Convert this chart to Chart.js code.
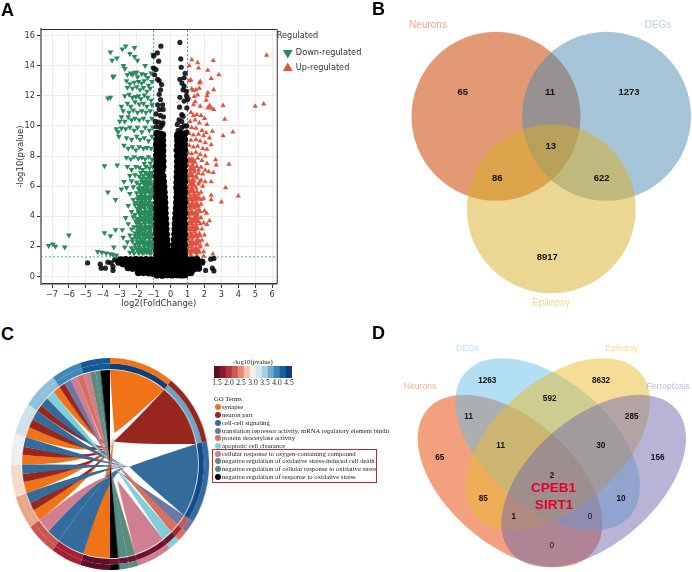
<!DOCTYPE html>
<html>
<head>
<meta charset="utf-8">
<title>Neuronal ferroptosis genes in epilepsy</title>
<script src="https://cdn.jsdelivr.net/npm/chart.js@4/dist/chart.umd.min.js"></script>
<style>
    html, body { margin: 0; padding: 0; background: #fff; }
    #page { position: relative; width: 692px; height: 572px; overflow: hidden; }
    #page canvas { position: absolute; }
    .letter { position: absolute; font: bold 18px "Liberation Sans", sans-serif; color: #000; line-height: 18px; }
    .go { position: absolute; font: 6.7px/8px "Liberation Serif", serif; color: #222; white-space: nowrap; }
    .dot { position: absolute; width: 6px; height: 6px; border-radius: 50%; }
    #goBox { position: absolute; left: 212px; top: 449px; width: 163px; height: 32px; border: 1.5px solid #c0272d; }
</style>
</head>
<body>
<div id="page">
    <canvas id="volcanoChart" style="left:0;top:0"></canvas>
    <canvas id="vennThreeChart" style="left:360px;top:0"></canvas>
    <canvas id="chordChart" style="left:4px;top:358px;transform:scaleX(0.935)"></canvas>
    <canvas id="pvalueBar" style="left:204px;top:360px"></canvas>
    <canvas id="vennFourChart" style="left:395px;top:320px"></canvas>
    <div class="letter" style="left:1px;top:1px">A</div>
    <div class="letter" style="left:372px;top:0">B</div>
    <div class="letter" style="left:1px;top:325px">C</div>
    <div class="letter" style="left:372px;top:324px">D</div>
    <div class="go" style="left:233px;top:358px">-log10(pvalue)</div>
    <div class="go" style="left:214px;top:395px">GO Terms</div>
    <div id="goList"></div>
    <div id="goBox"></div>
</div>
<script>
// volcano plot values: [log2FC, -log10 p]
const downPoints = [
    [-7.2,2.05],[-6.95,2.15],[-6.8,2.0],[-6.25,1.95],[-6.0,2.75],[-4.3,1.65],[-4.05,1.6],[-3.8,1.55],[-3.55,1.5],[-3.4,1.45],[-3.2,1.4],
    [-3.35,1.95],[-3.9,2.9],[-3.55,2.7],[-3.25,3.1],[-3.25,5.1],[-3.7,5.6],[-3.9,7.35],[-3.15,7.4],
    [-3.55,14.9],[-3.45,14.35],[-3.17,14.5],[-2.85,15.1],[-2.65,15.3],[-2.4,14.8],[-2.13,15.2],[-2.13,14.6],[-1.95,14.35],[-2.78,14],[-2.7,13.8],
    [-3.4,13.25],[-3.35,13.3],[-3.7,11.85],[-3.55,11.9],[-2.9,11.3],[-1.05,14.75],[-1.5,14],[-1.05,13.85],[-2,13.55],[-2.25,13.4],
    [-2.55,13.4],[-2.35,13.5],[-2.1,13.55],[-1.95,13.25],[-1.7,13.45],[-1.5,13.4],[-1.35,13.2],[-1.15,13.5],[-2.6,13],[-2.4,12.8],[-2.15,12.9],[-1.9,12.95],
    [-1.7,12.85],[-1.55,13],[-1.3,12.7],[-1.1,12.95],[-2.55,12.55],[-2.25,12.5],[-2.0,12.6],[-1.8,12.4],[-1.6,12.55],[-1.4,12.3],[-1.2,12.5],
    [-2.7,12],[-2.45,12.1],[-2.25,11.9],[-2.05,11.95],[-1.9,12],[-1.75,11.8],[-1.55,12.05],[-1.35,11.9],[-1.15,11.7],[-2.55,11.5],[-2.35,11.3],[-2.1,11.6],
    [-1.85,11.45],[-1.6,11.5],[-1.4,11.3],[-1.1,11.4],[-2.8,11.0],[-2.45,10.9],[-2.2,11.05],[-1.95,10.9],[-1.7,11],[-1.45,10.9],[-1.2,11],
    [-2.9,10.6],[-3,10.3],[-3.2,9.8],[-3.1,9.6],[-3.05,9.3],[-2.9,9.85],[-2.7,10.3],[-2.5,10.6],[-2.3,10.4],[-2.1,10.5],[-1.85,10.4],[-1.6,10.5],[-1.35,10.3],[-1.1,10.5],
    [-2.65,9.8],[-2.4,9.9],[-2.15,9.7],[-1.95,9.9],[-1.7,9.6],[-1.5,9.9],[-1.25,9.7],[-1.05,9.9],[-2.6,9.2],[-2.3,9.1],[-2,9.3],[-1.8,9.1],[-1.55,9.2],[-1.3,9],[-1.1,9.3],
    [-2.75,8.7],[-2.5,8.5],[-2.25,8.6],[-2.05,8.4],[-1.85,8.6],[-1.6,8.5],[-1.4,8.55],[-1.15,8.5],[-2.6,7.9],[-2.35,7.8],[-2.15,7.95],[-1.9,7.85],[-1.7,7.9],[-1.5,7.8],[-1.3,7.95],[-1.1,7.8],
    [-2.55,7.3],[-2.3,7.1],[-2.05,7.3],[-1.85,7.25],[-1.65,7.1],[-1.45,7.3],[-1.25,7.2],[-1.05,7.3],
    [-2.4,6.7],[-2.1,6.75],[-1.85,6.65],[-1.6,6.7],[-1.35,6.75],[-1.1,6.7],[-2.75,6.3],[-2.3,6.35],[-2.0,6.25],[-1.7,6.3],[-1.45,6.35],[-1.2,6.25],
    [-2.9,5.8],[-2.6,5.9],[-2.2,5.95],[-1.9,5.85],[-1.65,5.9],[-1.4,5.95],[-1.1,5.85],[-2.4,5.5],[-2,5.55],[-1.75,5.45],[-1.5,5.5],[-1.25,5.55],[-1.05,5.45],
    [-2.2,5.1],[-1.95,5.15],[-1.7,5.05],[-1.45,5.1],[-1.2,5.15],[-2.5,4.7],[-2.1,4.75],[-1.85,4.65],[-1.6,4.7],[-1.35,4.75],[-1.1,4.65],
    [-2.3,4.3],[-1.9,4.35],[-1.65,4.25],[-1.4,4.3],[-1.15,4.35],[-2.65,3.9],[-2.2,3.95],[-1.95,3.85],[-1.7,3.9],[-1.45,3.95],[-1.2,3.85],[-1.05,4],
    [-2.5,3.5],[-2.0,3.55],[-1.75,3.45],[-1.5,3.5],[-1.25,3.55],[-1.05,3.45],[-2.85,3.1],[-2.3,3.15],[-1.95,3.05],[-1.7,3.1],[-1.45,3.15],[-1.2,3.05],
    [-2.8,2.6],[-2.4,2.75],[-2.1,2.7],[-1.85,2.75],[-1.6,2.65],[-1.35,2.7],[-1.1,2.75],[-2.55,2.3],[-2.25,2.35],[-1.95,2.3],[-1.7,2.35],[-1.45,2.25],[-1.2,2.3],
    [-2.7,1.95],[-2.3,1.9],[-2.05,1.95],[-1.8,1.9],[-1.55,1.95],[-1.3,1.9],[-1.08,1.95],[-2.4,1.6],[-2.15,1.55],[-1.9,1.6],[-1.65,1.55],[-1.4,1.6],[-1.15,1.55],
    [-2.2,1.75],[-1.95,1.78],[-1.7,1.72],[-1.45,1.76],[-1.2,1.74],[-2.1,2.15],[-1.85,2.12],[-1.6,2.17],[-1.35,2.13],[-1.1,2.16],
    [-2.25,2.5],[-2,2.52],[-1.75,2.48],[-1.5,2.51],[-1.25,2.49],[-1.05,2.52],[-2.1,2.9],[-1.85,2.92],[-1.6,2.88],[-1.35,2.91],[-1.1,2.89],
    [-2.15,3.3],[-1.9,3.32],[-1.65,3.28],[-1.4,3.31],[-1.15,3.29],[-2.05,3.7],[-1.85,3.72],[-1.6,3.68],[-1.35,3.71],[-1.1,3.69],
    [-2.1,4.1],[-1.8,4.12],[-1.55,4.08],[-1.3,4.11],[-1.1,4.09],[-1.95,4.5],[-1.75,4.52],[-1.5,4.48],[-1.25,4.51],[-1.05,4.49],
    [-2.05,4.9],[-1.8,4.92],[-1.55,4.88],[-1.3,4.91],[-1.08,4.89],[-1.9,5.3],[-1.65,5.32],[-1.4,5.28],[-1.15,5.31],
    [-1.8,5.7],[-1.55,5.72],[-1.3,5.68],[-1.08,5.71],[-1.85,6.1],[-1.55,6.12],[-1.3,6.08],[-1.1,6.11],[-1.7,6.5],[-1.45,6.52],[-1.2,6.48],
    [-1.75,6.9],[-1.5,6.92],[-1.25,6.88],[-1.1,6.91],[-1.55,7.5],[-1.2,7.52]
];
// the solid part of the down-regulated cloud
const downCore = [
    [-1.85,1.7],[-1.55,1.72],[-1.25,1.7],[-1.85,2.2],[-1.55,2.22],[-1.25,2.2],[-1.85,2.7],[-1.55,2.72],[-1.25,2.7],[-1.85,3.2],[-1.55,3.22],[-1.25,3.2],
    [-1.85,3.7],[-1.55,3.72],[-1.25,3.7],[-1.8,4.2],[-1.55,4.22],[-1.25,4.2],[-1.8,4.7],[-1.55,4.72],[-1.25,4.7],[-1.75,5.2],[-1.5,5.22],[-1.25,5.2],
    [-1.7,5.7],[-1.5,5.72],[-1.25,5.7],[-1.5,6.2],[-1.25,6.22],[-1.25,6.7]
];
const upPoints = [
    [5.67,14.7],[5.5,11.45],[5,11.3],[4,5.35],[3,4.95],[3.25,5.9],[3.45,7.45],[3.68,9.6],[3.1,9.35],[3.2,10.45],[3.1,11.35],[2.85,13.4],[2.52,14.35],[2.2,13.7],[2.4,13.15],[2.55,12.4],
    [1.6,14.2],[1.25,14.4],[1.1,14],[1.65,13.85],[2.66,7.75],[2.7,7.4],[2.52,6.9],[2.4,6.3],[2.4,5.4],[2.4,5.1],[2.13,4.2],[2.3,3.7],[2.47,9.65],[2.1,9.55],[2.3,9.2],[2.4,8.75],
    [1.1,13],[1.2,13.05],[1.75,12.95],[1.7,12.85],[1.5,12.4],[1.35,12.35],[1.25,12.45],[1.7,12.5],[2.2,12.2],[2.15,12],[2.1,11.7],[1.6,12.05],[1.4,11.95],[1.1,11.85],[1.45,11.6],[1.35,11.4],
    [2.3,11.35],[2.4,11.2],[2.55,11.1],[2.2,11.2],[1.75,11.3],[1.2,10.9],[1.35,10.7],[1.55,10.75],[1.8,10.7],[2.0,10.5],[1.45,10.4],[1.15,10.3],[1.7,10.2],[2.15,10.1],
    [1.25,9.9],[1.5,9.85],[1.85,9.7],[1.1,9.5],[1.35,9.4],[1.65,9.45],[1.95,9.35],[1.2,9.05],[1.5,9.1],[1.75,9],[2.05,8.9],[1.1,8.7],[1.35,8.6],[1.6,8.65],[1.9,8.5],[2.15,8.45],
    [1.05,8.2],[1.25,8.15],[1.5,8.25],[1.75,8.1],[2.05,8],[1.1,7.8],[1.35,7.75],[1.6,7.85],[1.85,7.7],[2.15,7.5],[1.05,7.35],[1.3,7.4],[1.55,7.3],[1.8,7.25],[2.05,7.05],[2.25,6.95],
    [1.15,6.9],[1.4,6.95],[1.65,6.85],[1.9,6.8],[1.05,6.5],[1.3,6.45],[1.55,6.55],[1.8,6.4],[2.05,6.3],[1.15,6.1],[1.4,6.05],[1.65,6.15],[1.9,6],[1.05,5.7],[1.3,5.75],[1.55,5.65],[1.8,5.6],
    [1.15,5.3],[1.4,5.35],[1.65,5.25],[1.95,5.2],[1.05,4.9],[1.3,4.95],[1.55,4.85],[1.8,4.8],[1.15,4.5],[1.4,4.55],[1.65,4.45],[2.0,4.35],[1.05,4.1],[1.3,4.15],[1.55,4.05],[1.8,3.9],
    [1.15,3.7],[1.4,3.75],[1.65,3.65],[1.95,3.55],[1.05,3.3],[1.3,3.35],[1.55,3.25],[1.85,3.15],[2.15,3.45],[1.15,2.9],[1.4,2.95],[1.7,2.85],[2.0,2.75],[1.05,2.5],[1.3,2.55],[1.6,2.45],[1.85,2.4],
    [1.15,2.1],[1.45,2.15],[1.75,2.05],[2.15,2.1],[1.05,1.75],[1.35,1.7],[1.65,1.75],[1.95,1.65],[1.2,1.45],[1.55,1.4],[1.95,1.35],[2.5,1.5],
    [1.1,1.6],[1.3,1.62],[1.5,1.58],[1.7,1.61],[1.05,1.95],[1.25,1.97],[1.5,1.93],[1.75,1.96],[1.1,2.3],[1.3,2.32],[1.5,2.28],[1.7,2.31],
    [1.05,2.7],[1.25,2.72],[1.5,2.68],[1.75,2.71],[1.1,3.1],[1.3,3.12],[1.45,3.08],[1.05,3.5],[1.25,3.52],[1.5,3.48],[1.75,3.51],
    [1.1,3.9],[1.4,3.92],[1.65,3.88],[1.05,4.3],[1.25,4.32],[1.5,4.28],[1.75,4.31],[1.1,4.7],[1.4,4.72],[1.65,4.68],
    [1.05,5.1],[1.25,5.12],[1.5,5.08],[1.8,5.11],[1.1,5.5],[1.4,5.52],[1.65,5.48],[1.05,5.9],[1.25,5.92],[1.5,5.88],
    [1.1,6.3],[1.4,6.32],[1.7,6.28],[1.05,6.7],[1.25,6.72],[1.5,6.68],[1.15,7.1],[1.4,7.12],[1.65,7.08],[1.05,7.6],[1.25,7.62],[1.45,7.58]
];
// the solid part of the up-regulated cloud
const upCore = [
    [1.25,1.7],[1.5,1.72],[1.25,2.2],[1.5,2.22],[1.25,2.7],[1.5,2.72],[1.25,3.2],[1.5,3.22],[1.25,3.7],[1.5,3.72],[1.25,4.2],[1.5,4.22],
    [1.25,4.7],[1.5,4.72],[1.25,5.2],[1.5,5.22],[1.25,5.7],[1.25,6.2],[1.25,6.7],[1.25,7.2],[1.25,7.7]
];
// outlying non-significant genes, and the dense body of the same group
const outlierPoints = [
    [-4.9,0.9],[-4.15,0.82],[-4.1,0.55],[-3.85,0.55],[-3.7,0.95],[-3.5,0.9],[-3.4,0.65],[-3.4,0.4],[-3.3,1.1],[2.07,0.4],[2.37,1.15],[2.56,1.2],[2.47,0.55],[2.56,0.37],[1.68,1],[1.8,0.9],
    [-0.57,15.3],[-0.78,14.85],[-1,14.65],[-0.7,14.3],[-1,13.85],[-0.86,13.75],[-0.94,13.4],[-0.76,13.1],[-0.67,13],[-0.53,12.75],[-0.59,12.4],[-0.67,12.1],[-0.6,11.75],[-0.76,11.4],[-0.47,11.4],
    [-0.67,11.1],[-0.44,11.1],[-0.86,10.8],[-0.6,10.7],[-0.42,10.6],[-0.9,10.3],[-0.7,10.25],[-0.45,10.2],[-0.85,9.95],[-0.6,9.9],[-0.5,10.05],
    [0.55,15.55],[0.6,14.45],[0.63,13.9],[0.86,13.5],[0.8,13.2],[0.55,13.1],[0.67,12.85],[0.8,12.65],[0.74,12.4],[0.94,12.3],[0.55,11.9],[0.94,12],[1,11.75],[0.8,11.65],[0.53,11.25],[0.96,11.2],
    [0.66,10.75],[0.74,10.65],[0.5,10.4],[0.66,10.3],[0.4,10.1],[0.96,10],[0.66,9.9],[0.45,9.7],[0.8,10],[0.95,9.6],[0.35,9.3],[0.4,8.9],[0.32,8.4]
];
const bodyPoints = [
    [-0.8,9.5],[-0.62,9.45],[-0.8,9.1],[-0.6,9.15],[-0.82,8.75],[-0.58,8.8],[-0.8,8.4],[-0.55,8.45],[-0.82,8.05],[-0.55,8.1],[-0.8,7.7],[-0.52,7.75],[-0.82,7.35],[-0.52,7.4],
    [-0.8,7],[-0.5,7.05],[-0.82,6.65],[-0.62,6.7],[-0.45,6.65],[-0.8,6.3],[-0.6,6.35],[-0.42,6.3],[-0.82,5.95],[-0.6,6],[-0.4,5.95],[-0.8,5.6],[-0.6,5.65],[-0.38,5.6],
    [-0.82,5.25],[-0.58,5.3],[-0.36,5.25],[-0.8,4.9],[-0.58,4.95],[-0.34,4.9],[-0.82,4.55],[-0.56,4.6],[-0.33,4.55],[-0.8,4.2],[-0.56,4.25],[-0.32,4.2],[-0.82,3.85],[-0.55,3.9],[-0.3,3.85],
    [-0.8,3.5],[-0.55,3.55],[-0.28,3.5],[-0.82,3.15],[-0.54,3.2],[-0.27,3.15],[-0.8,2.8],[-0.52,2.85],[-0.25,2.8],[-0.82,2.45],[-0.52,2.5],[-0.23,2.45],[-0.8,2.1],[-0.5,2.15],[-0.2,2.1],
    [-0.82,1.75],[-0.5,1.8],[-0.18,1.75],[-0.8,1.45],[-0.5,1.45],[-0.15,1.45],
    [-0.47,9.4],[-0.47,9.05],[-0.46,8.7],[-0.46,8.35],[-0.46,8],[-0.45,7.65],[-0.45,7.3],
    [0.8,9.45],[0.58,9.5],[0.82,9.1],[0.58,9.15],[0.8,8.75],[0.55,8.8],[0.82,8.4],[0.55,8.45],[0.8,8.05],[0.52,8.1],[0.82,7.7],[0.5,7.75],[0.8,7.35],[0.5,7.4],
    [0.82,7],[0.62,7.05],[0.48,7],[0.8,6.65],[0.62,6.7],[0.46,6.65],[0.82,6.3],[0.6,6.35],[0.44,6.3],[0.8,5.95],[0.6,6],[0.42,5.95],[0.82,5.6],[0.6,5.65],[0.4,5.6],
    [0.8,5.25],[0.58,5.3],[0.38,5.25],[0.82,4.9],[0.58,4.95],[0.36,4.9],[0.8,4.55],[0.56,4.6],[0.34,4.55],[0.82,4.2],[0.56,4.25],[0.32,4.2],[0.8,3.85],[0.55,3.9],[0.3,3.85],
    [0.82,3.5],[0.55,3.55],[0.28,3.5],[0.8,3.15],[0.54,3.2],[0.27,3.15],[0.82,2.8],[0.52,2.85],[0.25,2.8],[0.8,2.45],[0.52,2.5],[0.23,2.45],[0.82,2.1],[0.5,2.15],[0.2,2.1],
    [0.8,1.75],[0.5,1.8],[0.18,1.75],[0.82,1.45],[0.5,1.45],[0.15,1.45],[0,1.35],
    [0.42,9.4],[0.42,9.05],[0.42,8.7],[0.42,8.35],[0.41,8],[0.41,7.65],[0.41,7.3],[0.4,6.95],[0.39,6.6],[0.38,6.25],[0.37,5.9],
    [-2.95,1.1],[-2.65,1.12],[-2.35,1.1],[-2.05,1.12],[-1.75,1.1],[-1.45,1.12],[-1.15,1.1],[-0.85,1.12],[-0.55,1.1],[-0.25,1.12],[0.05,1.1],[0.35,1.12],[0.65,1.1],[0.95,1.12],[1.25,1.1],[1.55,1.12],
    [-2.6,0.8],[-2.3,0.82],[-2,0.8],[-1.7,0.82],[-1.4,0.8],[-1.1,0.82],[-0.8,0.8],[-0.5,0.82],[-0.2,0.8],[0.1,0.82],[0.4,0.8],[0.7,0.82],[1,0.8],[1.3,0.82],[1.6,0.8],
    [-1.95,0.52],[-1.65,0.5],[-1.35,0.52],[-1.05,0.5],[-0.75,0.52],[-0.45,0.5],[-0.15,0.52],[0.15,0.5],[0.45,0.52],[0.75,0.5],[1.05,0.52],[1.35,0.5],
    [-0.85,0.25],[-0.55,0.24],[-0.25,0.25],[0.05,0.24],[0.35,0.25],[0.65,0.24],[0.95,0.25],[-0.2,0.12],[0.1,0.1],[0.4,0.12],
    [-3.05,0.95],[-2.8,0.85],[-2.5,0.58],[-2.25,0.54],[-1.9,0.27],[-1.6,0.26],[-1.3,0.24],[-1.05,0.22],[1.2,0.27],[-0.8,0.1],[-0.5,0.08],[0.65,0.1],[0.85,0.12],[1.65,0.55],[1.85,0.95]
];
const xTickValues = [-7, -6, -5, -4, -3, -2, -1, 0, 1, 2, 3, 4, 5, 6];
const yTickValues = [0, 2, 4, 6, 8, 10, 12, 14, 16];
const foldCut = 1;
const pvalueCut = 1.3;

// three-set overlap
const threeSetNames = ['Neurons', 'DEGs', 'Epilepsy'];
const threeSetCounts = [65, 1273, 8917, 11, 86, 622, 13];

// four-set overlap
const fourSetNames = ['Neurons', 'DEGs', 'Epilepsy', 'Ferroptosis'];
const fourSetCounts = [65, 1263, 8632, 156, 11, 592, 285, 11, 30, 85, 10, 2, 1, 0, 0];
const sharedGenes = ['CPEB1', 'SIRT1'];

// GO chord: ring sizes and gene-term links
const termNames = ['synapse', 'neuron part', 'cell-cell signaling',
    'translation repressor activity, mRNA regulatory element binding', 'protein deacetylase activity',
    'apoptotic cell clearance', 'cellular response to oxygen-containing compound',
    'negative regulation of oxidative stress-induced cell death',
    'negative regulation of cellular response to oxidative stress',
    'negative regulation of response to oxidative stress'];
const termSizes = [38, 39.7, 45.3, 7, 6, 7, 20.4, 5.4, 5.8, 5.4];
const geneSizes = [17.5, 18, 18, 18.5, 17.7, 17, 17.6, 20.7, 17.5, 17.6];
const linkGene = [0, 1, 2, 2, 3, 3, 3, 4, 4, 4, 5, 5, 5, 6, 6, 6, 7, 7, 7, 7, 8, 8, 8, 8, 9, 9, 9, 9];
const linkTerm = [0, 2, 2, 6, 0, 1, 2, 0, 1, 2, 0, 1, 2, 0, 1, 2, 1, 2, 5, 0, 1, 3, 6, 4, 6, 7, 8, 9];
const linkWidth = [17.5, 18, 9, 9, 7, 5, 6.5, 7, 5, 5.7, 6, 5, 6, 6.4, 5.4, 5.8, 4.4, 5.7, 5.6, 5, 4, 4.6, 4.5, 4.4, 4.3, 3.8, 3.2, 6.3];
const pvalueLevels = ['1.5', '1.75', '2.0', '2.25', '2.5', '2.75', '3.0', '3.25', '3.5', '3.75', '4.0', '4.25', '4.5'];

// ---- colours and placement ----
const termColors = ['#f07318', '#97261f', '#336b9b', '#6d76a5', '#d9705f', '#7fcfd8', '#cf7f90', '#5f8a76', '#4f8f88', '#000000'];
const termPvalueColors = ['#0f3f78', '#6ba6c9', '#0f4a8a', '#c9554e', '#a51f35', '#6f1230', '#6f1230', '#6f1230', '#6f1230', '#6f1230'];
const geneColors = ['#5d0f28', '#a51f35', '#c9554e', '#eba487', '#f7d9c8', '#eeeeee', '#cfe2ec', '#8fc0da', '#3f88b9', '#155a97'];
const barColors = ['#5d0f28', '#8b1a2f', '#b2323a', '#cc5a50', '#e08a6e', '#f3c2a8', '#f5f0ec', '#d5e6f0', '#a9cfe4', '#6faccf', '#3c83b8', '#1c5f9e', '#0f3f78'];
// where each term's fan of ribbons gathers, as fractions of the radius from the centre
const termGather = [[0.05, -0.33], [0.04, -0.24], [0.22, 0.03], [0.1, 0.08], [0.03, -0.05], [0.03, 0], [0.08, 0.17], [0, 0.05], [0, 0.02], [0, 0]];

const threeCircles = [
    { x: 136, y: 116.3, r: 84.5, color: 'rgba(216,115,63,0.72)' },
    { x: 246.5, y: 116.3, r: 84.5, color: 'rgba(75,137,177,0.5)' },
    { x: 191.3, y: 208.8, r: 84.5, color: 'rgba(217,175,37,0.5)' }
];
const threeNameSpots = [[68, 25, '#eda98a'], [298, 25, '#b9d4e4'], [191, 303, '#eed892']];
const threeCountSpots = [[102.7, 92.7], [269, 92.7], [187.3, 257.3], [190, 92.7], [137.3, 178.7], [241.7, 178.7], [190.7, 146.7]];

const fourEllipses = [
    { x: 115, y: 161, angle: 41, color: 'rgba(239,136,94,0.8)' },
    { x: 152.7, y: 124.3, angle: 41, color: 'rgba(101,191,231,0.5)' },
    { x: 162.7, y: 124.3, angle: -41, color: 'rgba(235,187,47,0.5)' },
    { x: 198.7, y: 161, angle: -41, color: 'rgba(113,105,173,0.5)' }
];
const ellipseLong = 109.3;
const ellipseShort = 63.3;
const fourNameSpots = [[72.5, 28.5, '#b9e1f4'], [226.5, 28.5, '#f5dd98'], [25, 67, '#f4b091'], [273, 67, '#bdb9da']];
const fourNameOrder = [1, 2, 0, 3];
const fourCountSpots = [[44.7, 137.7], [92.3, 61], [206, 61], [262.7, 137.7], [73.7, 96.3], [154.7, 78.3], [236.7, 96.3],
    [105.7, 126], [205.7, 126], [88.3, 179], [226, 179], [157, 155.3], [118.7, 196.7], [195, 196.7], [156.7, 226]];

document.addEventListener('DOMContentLoaded', function () {

    // GO term key beside the chord
    const goList = document.getElementById('goList');
    const goRows = [407.3, 415, 422.7, 430.7, 438, 446, 453.7, 461.3, 469, 476.7];
    termNames.forEach(function (name, i) {
        const dot = document.createElement('div');
        dot.className = 'dot';
        dot.style.cssText = 'left:215px;top:' + (goRows[i] - 3) + 'px;background:' + termColors[i];
        goList.appendChild(dot);
        const row = document.createElement('div');
        row.className = 'go';
        row.textContent = name;
        row.style.cssText = 'left:222px;top:' + (goRows[i] - 4) + 'px;max-width:167px;overflow:hidden';
        goList.appendChild(row);
    });

    // ==================== VOLCANO PLOT ====================
    const toXY = p => ({ x: p[0], y: p[1] });
    const frame = {
        id: 'frame',
        beforeDatasetsDraw(chart) {
            const a = chart.chartArea, ctx = chart.ctx;
            ctx.save();
            ctx.strokeStyle = '#333';
            ctx.lineWidth = 1;
            ctx.beginPath();
            ctx.moveTo(a.left, a.top + 0.5);
            ctx.lineTo(a.right + 0.5, a.top + 0.5);
            ctx.lineTo(a.right + 0.5, a.bottom);
            ctx.stroke();
            ctx.restore();
        }
    };
    const cutLine = (data) => ({
        type: 'scatter', data: data, showLine: true, borderColor: '#4a9ad9', borderWidth: 1,
        borderDash: [2, 2], pointRadius: 0, order: 5, label: 'cut'
    });
    const volcanoFont = { family: 'DejaVu Sans', size: 8.2 };
    const titleFont = { family: 'DejaVu Sans', size: 8.5 };
    const volcanoCanvas = document.getElementById('volcanoChart');
    volcanoCanvas.width = 369;
    volcanoCanvas.height = 320;
    new Chart(volcanoCanvas, {
        type: 'scatter',
        data: {
            datasets: [
                { label: 'Not significant', data: bodyPoints.map(toXY), pointRadius: 3.6, backgroundColor: '#000', borderWidth: 0, order: 0 },
                { label: 'Not significant', data: outlierPoints.map(toXY), pointRadius: 2.6, backgroundColor: 'rgba(0,0,0,0.85)', borderWidth: 0, order: 1 },
                { label: 'Down-regulated', data: downPoints.map(toXY), pointStyle: 'triangle', rotation: 180, pointRadius: 3.3, backgroundColor: '#2a8a5c', borderColor: '#2a8a5c', borderWidth: 0, order: 2 },
                { label: 'Up-regulated', data: upPoints.map(toXY), pointStyle: 'triangle', pointRadius: 3, backgroundColor: '#e2533f', borderColor: '#e2533f', borderWidth: 0, order: 3 },
                { label: 'Down core', data: downCore.map(toXY), pointStyle: 'triangle', rotation: 180, pointRadius: 5, backgroundColor: '#2a8a5c', borderWidth: 0, order: 4 },
                { label: 'Up core', data: upCore.map(toXY), pointStyle: 'triangle', pointRadius: 4.5, backgroundColor: '#e2533f', borderWidth: 0, order: 4 },
                cutLine([{ x: -foldCut, y: -0.5 }, { x: -foldCut, y: 16.44 }]),
                cutLine([{ x: foldCut, y: -0.5 }, { x: foldCut, y: 16.44 }]),
                cutLine([{ x: -7.65, y: pvalueCut }, { x: 6.27, y: pvalueCut }])
            ]
        },
        plugins: [frame],
        options: {
            responsive: false,
            animation: false,
            devicePixelRatio: 1,
            layout: { padding: { top: 29 } },
            plugins: {
                tooltip: { enabled: false },
                legend: {
                    position: 'right',
                    align: 'start',
                    title: { display: true, text: 'Regulated', position: 'start', color: '#333', font: volcanoFont, padding: { top: 3, bottom: 0 } },
                    labels: {
                        usePointStyle: true,
                        color: '#333',
                        font: volcanoFont,
                        boxWidth: 8,
                        boxHeight: 8,
                        padding: 7,
                        filter: item => item.text === 'Down-regulated' || item.text === 'Up-regulated'
                    }
                }
            },
            scales: {
                x: {
                    min: -7.65,
                    max: 6.27,
                    afterBuildTicks(scale) { scale.ticks = xTickValues.map(v => ({ value: v })); },
                    afterFit(scale) { scale.height = 36; },
                    grid: { color: '#ececec', tickColor: '#333', tickLength: 4, lineWidth: 1 },
                    border: { color: '#333', width: 1.5 },
                    ticks: { color: '#333', font: volcanoFont, padding: 2, maxRotation: 0, autoSkip: false, callback: v => String(v).replace('-', '\u2212') },
                    title: { display: true, text: 'log2(FoldChange)', color: '#333', font: titleFont, padding: { top: 0, bottom: 11 } }
                },
                y: {
                    min: -0.5,
                    max: 16.44,
                    afterBuildTicks(scale) { scale.ticks = yTickValues.map(v => ({ value: v })); },
                    afterFit(scale) { scale.width = 41; },
                    grid: { color: '#ececec', tickColor: '#333', tickLength: 4, lineWidth: 1 },
                    border: { color: '#888', width: 2 },
                    ticks: { color: '#333', font: volcanoFont, padding: 2, autoSkip: false },
                    title: { display: true, text: '-log10(pvalue)', color: '#333', font: titleFont, padding: { top: 16, bottom: 0 } }
                }
            }
        }
    });

    // ==================== VENN HELPERS ====================
    const pxScales = (w, h) => ({
        x: { type: 'linear', min: 0, max: w, display: false },
        y: { type: 'linear', min: 0, max: h, reverse: true, display: false }
    });
    const vennLabels = (counts, countSpots, names, nameSpots, nameFont, countFont, extra) => ({
        id: 'vennLabels',
        afterDatasetsDraw(chart) {
            const ctx = chart.ctx, sx = chart.scales.x, sy = chart.scales.y;
            ctx.save();
            ctx.textAlign = 'center';
            ctx.textBaseline = 'middle';
            ctx.font = nameFont;
            names.forEach(function (name, i) {
                ctx.fillStyle = nameSpots[i][2];
                ctx.fillText(name, sx.getPixelForValue(nameSpots[i][0]), sy.getPixelForValue(nameSpots[i][1]));
            });
            counts.forEach(function (count, i) {
                ctx.fillStyle = '#111';
                ctx.font = countFont(count);
                ctx.fillText(count, sx.getPixelForValue(countSpots[i][0]), sy.getPixelForValue(countSpots[i][1]));
            });
            if (extra) extra(ctx, sx, sy);
            ctx.restore();
        }
    });

    // ==================== THREE-SET VENN ====================
    const threeCanvas = document.getElementById('vennThreeChart');
    threeCanvas.width = 332;
    threeCanvas.height = 312;
    new Chart(threeCanvas, {
        type: 'bubble',
        data: {
            datasets: threeCircles.map((c, i) => ({
                label: threeSetNames[i],
                data: [{ x: c.x, y: c.y, r: c.r }],
                backgroundColor: c.color,
                borderWidth: 0,
                clip: false,
                order: threeCircles.length - i
            }))
        },
        plugins: [vennLabels(threeSetCounts, threeCountSpots, threeSetNames, threeNameSpots, '10px "Liberation Sans"', () => 'bold 9.5px "Liberation Sans"')],
        options: {
            responsive: false,
            animation: false,
            devicePixelRatio: 1,
            layout: { autoPadding: false },
            plugins: { legend: { display: false }, tooltip: { enabled: false } },
            scales: pxScales(332, 312)
        }
    });

    // ==================== GO CHORD ====================
    const chordRibbons = {
        id: 'chordRibbons',
        afterDatasetsDraw(chart) {
            const arcs = chart.getDatasetMeta(1).data;
            const ctx = chart.ctx;
            const nTerms = termSizes.length;
            const cx = arcs[0].x, cy = arcs[0].y;
            const r = arcs[0].innerRadius - 0.8;
            const perDegree = arcs[0].circumference / termSizes[0];
            const onRim = a => [cx + r * Math.cos(a), cy + r * Math.sin(a)];

            // gene ends run clockwise along each gene arc
            const geneCursor = geneSizes.map((_, g) => arcs[nTerms + g].startAngle);
            const geneEnds = linkGene.map(function (g, i) {
                const start = geneCursor[g];
                geneCursor[g] = start + linkWidth[i] * perDegree;
                return [start, geneCursor[g]];
            });

            ctx.save();
            termSizes.forEach(function (_, t) {
                const gx = cx + termGather[t][0] * r, gy = cy + termGather[t][1] * r;
                const a0 = arcs[t].startAngle, a1 = arcs[t].endAngle;
                const p0 = onRim(a0), p1 = onRim(a1);
                ctx.fillStyle = termColors[t];

                // solid fan from the term arc to its gathering point
                ctx.beginPath();
                ctx.arc(cx, cy, r, a0, a1);
                ctx.quadraticCurveTo((p1[0] + gx * 3) / 4 * 0.9 + cx * 0.1, (p1[1] + gy * 3) / 4 * 0.9 + cy * 0.1, gx, gy);
                ctx.quadraticCurveTo((p0[0] + gx * 3) / 4 * 0.9 + cx * 0.1, (p0[1] + gy * 3) / 4 * 0.9 + cy * 0.1, p0[0], p0[1]);
                ctx.closePath();
                ctx.fill();

                // one tapering ribbon per linked gene
                linkTerm.forEach(function (term, i) {
                    if (term !== t) return;
                    const e = geneEnds[i];
                    const start = onRim(e[0]);
                    ctx.beginPath();
                    ctx.arc(cx, cy, r, e[0], e[1]);
                    ctx.quadraticCurveTo(cx, cy, gx, gy);
                    ctx.quadraticCurveTo(cx, cy, start[0], start[1]);
                    ctx.closePath();
                    ctx.fill();
                });
            });
            ctx.restore();
        }
    };
    const chordCanvas = document.getElementById('chordChart');
    chordCanvas.width = 212;
    chordCanvas.height = 212;
    const ringSizes = termSizes.concat(geneSizes);
    new Chart(chordCanvas, {
        type: 'doughnut',
        data: {
            datasets: [
                { data: ringSizes, backgroundColor: termColors.concat(geneColors), borderWidth: 0 },
                { data: ringSizes, backgroundColor: termPvalueColors.concat(geneColors), borderWidth: 0 }
            ]
        },
        plugins: [chordRibbons],
        options: {
            responsive: false,
            animation: false,
            devicePixelRatio: 1,
            cutout: '89.5%',
            plugins: { legend: { display: false }, tooltip: { enabled: false } }
        }
    });

    // ==================== P-VALUE COLOUR BAR ====================
    const barCanvas = document.getElementById('pvalueBar');
    barCanvas.width = 96;
    barCanvas.height = 32;
    new Chart(barCanvas, {
        type: 'bar',
        data: {
            labels: pvalueLevels,
            datasets: [{ data: pvalueLevels.map(() => 1), backgroundColor: barColors, categoryPercentage: 1, barPercentage: 1 }]
        },
        options: {
            responsive: false,
            animation: false,
            devicePixelRatio: 1,
            layout: { padding: { left: 10, right: 8, top: 6 } },
            plugins: { legend: { display: false }, tooltip: { enabled: false } },
            scales: {
                y: { display: false, min: 0, max: 1 },
                x: {
                    afterFit(scale) { scale.height = 14; },
                    border: { display: false },
                    grid: { display: false, tickLength: 1 },
                    ticks: {
                        autoSkip: false,
                        maxRotation: 0,
                        padding: 0,
                        color: '#222',
                        font: { family: 'Liberation Serif', size: 7.5 },
                        callback: function (value, index) { return index % 2 === 0 ? this.getLabelForValue(value) : ''; }
                    }
                }
            }
        }
    });

    // ==================== FOUR-SET VENN ====================
    const ellipsePainter = {
        id: 'ellipsePainter',
        beforeDatasetsDraw(chart) {
            const ctx = chart.ctx, sx = chart.scales.x, sy = chart.scales.y;
            ctx.save();
            fourEllipses.forEach(function (el) {
                ctx.beginPath();
                ctx.ellipse(sx.getPixelForValue(el.x), sy.getPixelForValue(el.y), ellipseLong, ellipseShort, el.angle * Math.PI / 180, 0, Math.PI * 2);
                ctx.fillStyle = el.color;
                ctx.fill();
            });
            ctx.restore();
        }
    };
    const sharedGeneLabels = function (ctx, sx, sy) {
        ctx.fillStyle = '#e4002b';
        ctx.font = 'bold 13.5px "Liberation Sans"';
        ctx.fillText(sharedGenes[0], sx.getPixelForValue(158.5), sy.getPixelForValue(168.7));
        ctx.fillText(sharedGenes[1], sx.getPixelForValue(159), sy.getPixelForValue(185.7));
    };
    const fourCanvas = document.getElementById('vennFourChart');
    fourCanvas.width = 297;
    fourCanvas.height = 252;
    new Chart(fourCanvas, {
        type: 'scatter',
        data: { datasets: [] },
        plugins: [ellipsePainter, vennLabels(fourSetCounts, fourCountSpots, fourNameOrder.map(i => fourSetNames[i]), fourNameSpots, '8.6px "Liberation Sans"',
            count => (count === 0 ? '8.2px "Liberation Sans"' : 'bold 8.2px "Liberation Sans"'), sharedGeneLabels)],
        options: {
            responsive: false,
            animation: false,
            devicePixelRatio: 1,
            plugins: { legend: { display: false }, tooltip: { enabled: false } },
            scales: pxScales(297, 252)
        }
    });
});
</script>
</body>
</html>
